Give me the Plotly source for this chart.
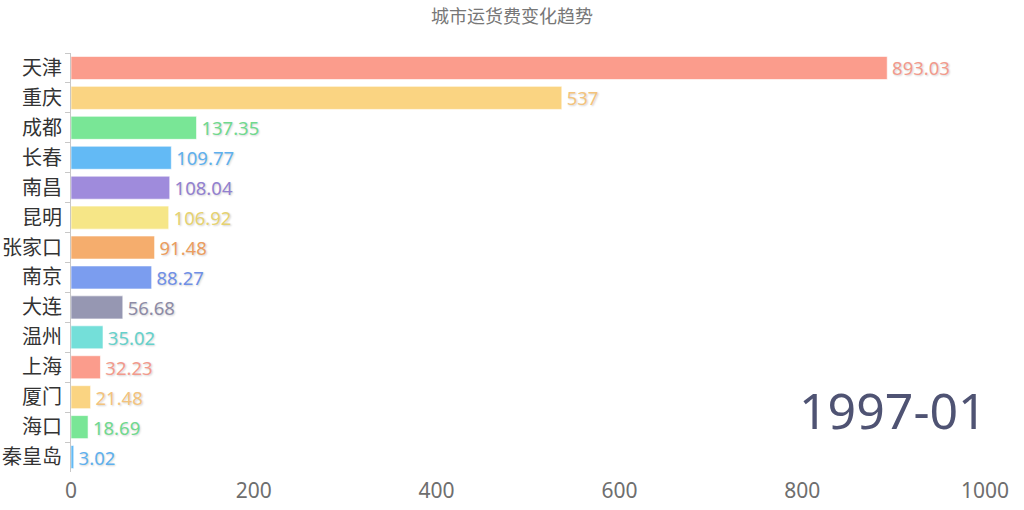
import plotly.graph_objects as go

title_text = "城市运货费变化趋势"
period = "1997-01"
cities = ["天津", "重庆", "成都", "长春", "南昌", "昆明", "张家口", "南京", "大连", "温州", "上海", "厦门", "海口", "秦皇岛"]
values = [893.03, 537, 137.35, 109.77, 108.04, 106.92, 91.48, 88.27, 56.68, 35.02, 32.23, 21.48, 18.69, 3.02]
value_labels = ["893.03", "537", "137.35", "109.77", "108.04", "106.92", "91.48", "88.27", "56.68", "35.02", "32.23", "21.48", "18.69", "3.02"]
x_ticks = [0, 200, 400, 600, 800, 1000]

palette_bar = ["#fb9c8c", "#fad482", "#79e696", "#63baf5", "#9f8bdc", "#f6e687", "#f5ad6d", "#7b9def", "#9697b2", "#74dfd9"]
palette_text = ["#f29a8c", "#f3c37c", "#6fd98e", "#5eb0ee", "#9280d0", "#e6d270", "#eb9d5e", "#6f8fe6", "#8d8ba6", "#65d1cb"]

bar_colors = [palette_bar[i % len(palette_bar)] for i in range(len(cities))]
text_colors = [palette_text[i % len(palette_text)] for i in range(len(cities))]

fig = go.Figure()
fig.add_trace(go.Bar(
    x=values,
    y=cities,
    orientation="h",
    marker=dict(color=bar_colors, line=dict(color="rgba(255,255,255,0.6)", width=1)),
    text=value_labels,
    texttemplate="\u200a%{text}",
    textposition="outside",
    constraintext="none",
    textfont=dict(color=text_colors, size=18.5, family="Noto Sans",
                  shadow="1px 1px 2px rgba(0,0,0,0.18)"),
    cliponaxis=False,
    hoverinfo="x+y",
))

fig.update_layout(
    width=1024,
    height=510,
    margin=dict(l=71, r=39, t=53, b=38, autoexpand=False),
    paper_bgcolor="white",
    plot_bgcolor="white",
    bargap=0.23,
    showlegend=False,
    title=dict(text=title_text, x=0.5, xanchor="center", y=0.967, yanchor="middle",
               font=dict(size=18, color="#777777", family="Noto Sans CJK SC")),
    xaxis=dict(range=[0, 1000], tickvals=x_ticks, showgrid=False, zeroline=False,
               showline=False, ticks="", automargin=False,
               tickfont=dict(size=21, color="#6e6e6e", family="Noto Sans"),
               ticklabelstandoff=4),
    yaxis=dict(categoryorder="array", categoryarray=cities, autorange="reversed",
               showline=True, linecolor="#c8c8c8", linewidth=1, ticks="outside",
               ticklen=5, tickcolor="#c8c8c8", tickson="boundaries", showgrid=False,
               automargin=False,
               tickfont=dict(size=20, color="#333333", family="Noto Sans CJK SC"),
               ticklabelstandoff=4),
    annotations=[dict(text=period, x=1.004, xref="paper", xanchor="right", y=0.148, yref="paper",
                      yanchor="middle", showarrow=False,
                      font=dict(size=50, color="#4f5373", family="Noto Sans"))],
)

fig.write_html("out.html", config={"displayModeBar": False},
               post_script="document.body.style.margin='0';")
